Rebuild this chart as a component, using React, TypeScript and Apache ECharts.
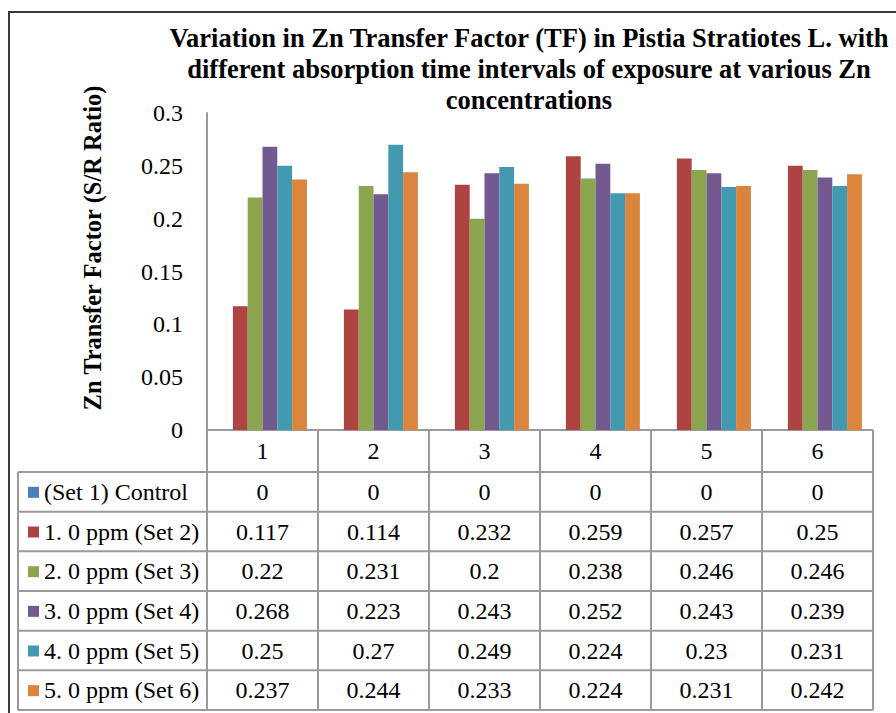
import React, { useEffect, useRef } from "react";
import * as echarts from "echarts";

const categories = ["1", "2", "3", "4", "5", "6"];
const seriesNames = [
  "(Set 1) Control",
  "1. 0 ppm (Set 2)",
  "2. 0 ppm (Set 3)",
  "3. 0 ppm (Set 4)",
  "4. 0 ppm (Set 5)",
  "5. 0 ppm (Set 6)",
];
const control = [0, 0, 0, 0, 0, 0];
const set2 = [0.117, 0.114, 0.232, 0.259, 0.257, 0.25];
const set3 = [0.22, 0.231, 0.2, 0.238, 0.246, 0.246];
const set4 = [0.268, 0.223, 0.243, 0.252, 0.243, 0.239];
const set5 = [0.25, 0.27, 0.249, 0.224, 0.23, 0.231];
const set6 = [0.237, 0.244, 0.233, 0.224, 0.231, 0.242];
const seriesValues = [control, set2, set3, set4, set5, set6];
const colors = ["#4A7EBB", "#AE4441", "#8BA64E", "#725A90", "#4399AF", "#DB843D"];

const titleText =
  "Variation in Zn Transfer Factor (TF) in Pistia Stratiotes L. with\ndifferent absorption time intervals of exposure at various Zn\nconcentrations";
const yTitle = "Zn Transfer Factor (S/R Ratio)";

const FONT = "Liberation Serif";

export default function App() {
  const ref = useRef<HTMLDivElement>(null);
  useEffect(() => {
    if (!ref.current) return;
    const chart = echarts.init(ref.current, null, { renderer: "svg" });

    const gridLeft = 207;
    const gridRight = 873;
    const axisY = 430;
    const headerBottom = 472;
    const rowH = (710 - headerBottom) / seriesNames.length;
    const colW = (gridRight - gridLeft) / categories.length;
    const tableLeft = 18;
    const lineColor = "#9a9a9a";

    const graphics: any[] = [];
    graphics.push({
      type: "rect",
      shape: { x: 9, y: 12, width: 1000, height: 1000 },
      style: { fill: "none", stroke: "#3a3a3a", lineWidth: 2 },
      silent: true,
    });
    graphics.push({
      type: "text",
      x: 92,
      y: 248,
      rotation: Math.PI / 2,
      style: {
        text: yTitle,
        fontFamily: FONT,
        fontSize: 24.5,
        fontWeight: "bold",
        fill: "#000",
        align: "center",
        verticalAlign: "middle",
        textAlign: "center",
        textVerticalAlign: "middle",
      },
    });
    graphics.push({
      type: "line",
      shape: { x1: gridLeft, y1: axisY, x2: gridRight, y2: axisY },
      style: { stroke: lineColor, lineWidth: 2 },
    });
    for (let r = 0; r <= seriesNames.length; r++) {
      const y = headerBottom + r * rowH;
      graphics.push({
        type: "line",
        shape: { x1: tableLeft, y1: y, x2: gridRight, y2: y },
        style: { stroke: lineColor, lineWidth: 2 },
      });
    }
    graphics.push({
      type: "line",
      shape: { x1: tableLeft, y1: headerBottom, x2: tableLeft, y2: 710 },
      style: { stroke: lineColor, lineWidth: 2 },
    });
    for (let c = 0; c <= categories.length; c++) {
      const x = gridLeft + c * colW;
      graphics.push({
        type: "line",
        shape: { x1: x, y1: axisY, x2: x, y2: 710 },
        style: { stroke: lineColor, lineWidth: 2 },
      });
    }
    seriesNames.forEach((name, r) => {
      const cy = headerBottom + r * rowH + rowH / 2;
      graphics.push({
        type: "rect",
        shape: { x: 28, y: cy - 5, width: 11, height: 11 },
        style: { fill: colors[r] },
      });
      graphics.push({
        type: "text",
        x: 44,
        y: cy,
        style: {
          text: name,
          fontFamily: FONT,
          fontSize: 24,
          fill: "#000",
          align: "left",
          verticalAlign: "middle",
          textAlign: "left",
          textVerticalAlign: "middle",
        },
      });
      seriesValues[r].forEach((v, c) => {
        graphics.push({
          type: "text",
          x: gridLeft + c * colW + colW / 2,
          y: cy,
          style: {
            text: String(v),
            fontFamily: FONT,
            fontSize: 24,
            fill: "#000",
            align: "center",
            verticalAlign: "middle",
            textAlign: "center",
            textVerticalAlign: "middle",
          },
        });
      });
    });

    chart.setOption({
      animation: false,
      backgroundColor: "#ffffff",
      title: {
        text: titleText,
        left: 529,
        top: 22,
        padding: 0,
        textAlign: "center",
        textStyle: {
          fontFamily: FONT,
          fontSize: 26.5,
          fontWeight: "bold",
          color: "#000",
          lineHeight: 31,
        },
      },
      grid: {
        left: gridLeft,
        right: 896 - gridRight,
        top: 113,
        bottom: 713 - axisY,
        containLabel: false,
      },
      xAxis: {
        type: "category",
        data: categories,
        axisLine: { show: false },
        axisTick: { show: false },
        axisLabel: {
          margin: 9,
          fontFamily: FONT,
          fontSize: 24,
          color: "#000",
        },
      },
      yAxis: {
        type: "value",
        min: 0,
        max: 0.3,
        interval: 0.05,
        splitLine: { show: false },
        axisTick: { show: false },
        axisLine: { show: true, lineStyle: { color: lineColor, width: 2 } },
        axisLabel: {
          margin: 24,
          fontFamily: FONT,
          fontSize: 24,
          color: "#000",
        },
      },
      series: seriesNames.map((name, i) => ({
        name,
        type: "bar",
        data: seriesValues[i],
        barGap: "0%",
        barCategoryGap: "20%",
        itemStyle: { color: colors[i] },
      })),
      graphic: graphics,
    });
    return () => chart.dispose();
  }, []);
  return (
    <div
      ref={ref}
      style={{ position: "fixed", left: 0, top: 0, width: 896, height: 713 }}
    />
  );
}
